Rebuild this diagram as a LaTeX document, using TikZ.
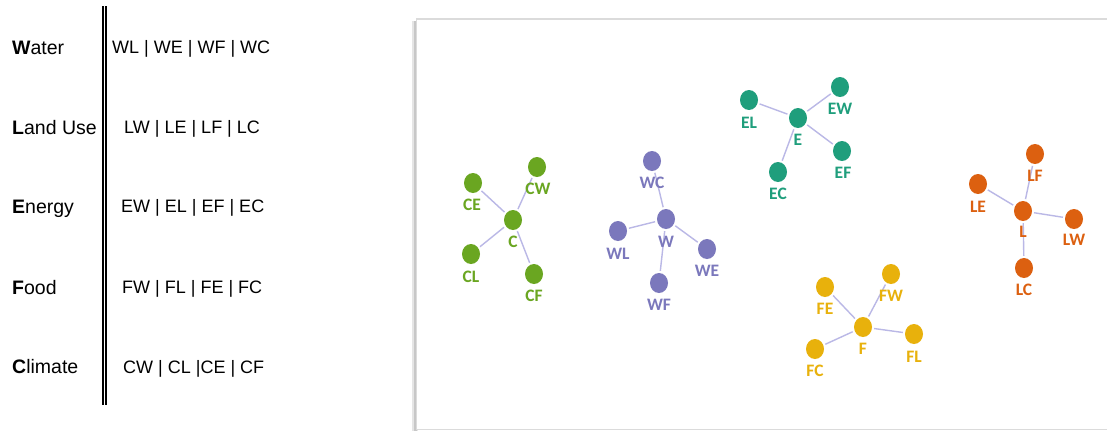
\documentclass[tikz,border=0pt]{standalone}
\usepackage{fontspec}
\setmainfont{Liberation Sans}
\newfontfamily\lblfont{Carlito}
\usetikzlibrary{shapes.geometric}
\definecolor{cgreen}{HTML}{6AA621}
\definecolor{cpurple}{HTML}{7B78BC}
\definecolor{cteal}{HTML}{1F9E7C}
\definecolor{cyellow}{HTML}{E8B10C}
\definecolor{corange}{HTML}{DC6010}
\definecolor{cedge}{HTML}{BAB8E6}
\tikzset{
  dot/.style={ellipse, minimum width=18pt, minimum height=20pt, inner sep=0pt, fill=#1},
  lbl/.style={inner sep=0pt, text=#1, font=\lblfont\bfseries\fontsize{17.5}{18}\selectfont},
  link/.style={draw=cedge, line width=1.4pt, shorten >=2pt, shorten <=2pt},
  lefttxt/.style={anchor=base west, inner sep=0pt, font=\fontsize{19.5}{20}\selectfont},
  righttxt/.style={anchor=base west, inner sep=0pt, font=\fontsize{18}{19}\selectfont}
}
\begin{document}
\begin{tikzpicture}[x=1pt,y=-1pt]
\useasboundingbox (0,0) rectangle (1107,431);
% left table
\node[lefttxt] (tw) at (12,54) {\textbf{W}ater};
\node[lefttxt] (tl) at (12,134) {\textbf{L}and Use};
\node[lefttxt] (te) at (12,213) {\textbf{E}nergy};
\node[lefttxt] (tf) at (12,294) {\textbf{F}ood};
\node[lefttxt] (tc) at (12,373) {\textbf{C}limate};
\node[righttxt] (rw) at (112,53) {WL | WE | WF | WC};
\node[righttxt] (rl) at (124,133) {LW | LE | LF | LC};
\node[righttxt] (re) at (121,212) {EW | EL | EF | EC};
\node[righttxt] (rf) at (122,293) {FW | FL | FE | FC};
\node[righttxt] (rc) at (123,373) {CW | CL |CE | CF};
\coordinate (v1t) at (103,6); \coordinate (v1b) at (103,405);
\coordinate (v2t) at (106,6); \coordinate (v2b) at (106,405);
\draw[line width=1.4pt] (v1t) -- (v1b);
\draw[line width=1.4pt] (v2t) -- (v2b);
% panel
\fill[black!10] (411.5,21) rectangle (418,431);
\fill[black!22] (413.5,21) rectangle (416.5,431);
\filldraw[fill=white, draw=black!14, line width=1.5pt] (416.5,19) rectangle (1112,429.5);
% C group (green)
\node[dot=cgreen] (C) at (513,220) {};
\node[dot=cgreen] (CE) at (473,183) {};
\node[dot=cgreen] (CW) at (537,167) {};
\node[dot=cgreen] (CL) at (471,254) {};
\node[dot=cgreen] (CF) at (534,274) {};
\foreach \n in {CE,CW,CL,CF} \draw[link] (C) -- (\n);
\node[lbl=cgreen] (lC) at (513,242) {C};
\node[lbl=cgreen] (lCE) at (472,205) {CE};
\node[lbl=cgreen] (lCW) at (538,189) {CW};
\node[lbl=cgreen] (lCL) at (471,277) {CL};
\node[lbl=cgreen] (lCF) at (534,296) {CF};
% W group (purple)
\node[dot=cpurple] (W) at (666,219) {};
\node[dot=cpurple] (WC) at (652,161) {};
\node[dot=cpurple] (WL) at (618,231) {};
\node[dot=cpurple] (WE) at (707,249) {};
\node[dot=cpurple] (WF) at (659,283) {};
\foreach \n in {WC,WL,WE,WF} \draw[link] (W) -- (\n);
\node[lbl=cpurple] (lW) at (666,242) {W};
\node[lbl=cpurple] (lWC) at (652,183) {WC};
\node[lbl=cpurple] (lWL) at (618,254) {WL};
\node[lbl=cpurple] (lWE) at (707,271) {WE};
\node[lbl=cpurple] (lWF) at (659,305) {WF};
% E group (teal)
\node[dot=cteal] (E) at (798,118) {};
\node[dot=cteal] (EL) at (749,100) {};
\node[dot=cteal] (EW) at (840,87) {};
\node[dot=cteal] (EF) at (842,151) {};
\node[dot=cteal] (EC) at (778,172) {};
\foreach \n in {EL,EW,EF,EC} \draw[link] (E) -- (\n);
\node[lbl=cteal] (lE) at (798,140) {E};
\node[lbl=cteal] (lEL) at (749,123) {EL};
\node[lbl=cteal] (lEW) at (840,109) {EW};
\node[lbl=cteal] (lEF) at (843,173) {EF};
\node[lbl=cteal] (lEC) at (778,194) {EC};
% F group (yellow)
\node[dot=cyellow] (F) at (863,327) {};
\node[dot=cyellow] (FE) at (825,287) {};
\node[dot=cyellow] (FW) at (891,274) {};
\node[dot=cyellow] (FL) at (914,334) {};
\node[dot=cyellow] (FC) at (815,349) {};
\foreach \n in {FE,FW,FL,FC} \draw[link] (F) -- (\n);
\node[lbl=cyellow] (lF) at (863,349) {F};
\node[lbl=cyellow] (lFE) at (825,309) {FE};
\node[lbl=cyellow] (lFW) at (891,296) {FW};
\node[lbl=cyellow] (lFL) at (914,357) {FL};
\node[lbl=cyellow] (lFC) at (815,371) {FC};
% L group (orange)
\node[dot=corange] (L) at (1023,211) {};
\node[dot=corange] (LE) at (978,184) {};
\node[dot=corange] (LF) at (1035,154) {};
\node[dot=corange] (LW) at (1074,219) {};
\node[dot=corange] (LC) at (1024,268) {};
\foreach \n in {LE,LF,LW,LC} \draw[link] (L) -- (\n);
\node[lbl=corange] (lL) at (1023,232) {L};
\node[lbl=corange] (lLE) at (978,207) {LE};
\node[lbl=corange] (lLF) at (1035,176) {LF};
\node[lbl=corange] (lLW) at (1074,240) {LW};
\node[lbl=corange] (lLC) at (1024,290) {LC};
\end{tikzpicture}
\end{document}
